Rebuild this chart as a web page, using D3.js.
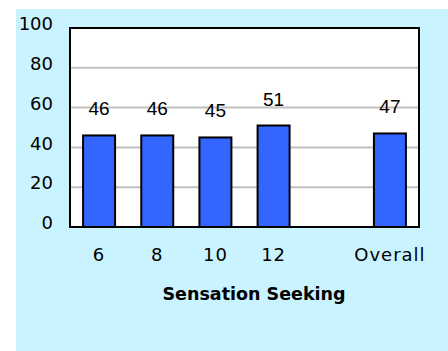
<!DOCTYPE html>
<html><head><meta charset="utf-8">
<script src="https://cdn.jsdelivr.net/npm/d3@7"></script>
<style>html,body{margin:0;padding:0;background:#fff;}svg{display:block;}</style>
</head><body>
<script>
const categories = ["6", "8", "10", "12", "", "Overall"];
const values = [46, 46, 45, 51, null, 47];
const yTicks = [0, 20, 40, 60, 80, 100];
const xTitle = "Sensation Seeking";

const W = 448, H = 351;
const svg = d3.select("body").append("svg").attr("width", W).attr("height", H);
svg.append("rect").attr("x", 16).attr("y", 9).attr("width", W - 16).attr("height", H - 9).attr("fill", "#C9F3FF");

const L = 70, R = 419, T = 28, B = 227;
const slots = categories.map((c, i) => "s" + i);
const x = d3.scaleBand().domain(slots).range([L, R]).paddingInner(0.45).paddingOuter(0.225);
const y = d3.scaleLinear().domain([0, 100]).range([B, T]);

svg.append("rect").attr("x", L).attr("y", T).attr("width", R - L).attr("height", B - T).attr("fill", "#fff");

svg.selectAll("line.grid").data(yTicks.filter(v => v > 0 && v < 100)).enter().append("line")
  .attr("x1", L).attr("x2", R).attr("y1", d => y(d)).attr("y2", d => y(d))
  .attr("stroke", "#C0C0C0").attr("stroke-width", 2);

const data = categories.map((c, i) => ({slot: slots[i], cat: c, v: values[i]})).filter(d => d.v != null);

svg.selectAll("rect.bar").data(data).enter().append("rect")
  .attr("x", d => x(d.slot)).attr("width", x.bandwidth())
  .attr("y", d => y(d.v)).attr("height", d => y(0) - y(d.v))
  .attr("fill", "#3366FF").attr("stroke", "#000").attr("stroke-width", 2);

svg.selectAll("text.val").data(data).enter().append("text")
  .attr("x", d => x(d.slot) + x.bandwidth() / 2).attr("y", d => y(d.v) - 20)
  .attr("text-anchor", "middle").attr("font-family", "Liberation Sans, Arial, sans-serif")
  .attr("font-size", 19).attr("fill", "#000").text(d => d.v);

svg.append("rect").attr("x", L).attr("y", T).attr("width", R - L).attr("height", B - T)
  .attr("fill", "none").attr("stroke", "#000").attr("stroke-width", 2);

const yAxis = svg.append("g").attr("transform", `translate(${L},0)`)
  .call(d3.axisLeft(y).tickValues(yTicks).tickSize(0).tickPadding(17));
yAxis.select(".domain").remove();
yAxis.selectAll("text").attr("font-family", "DejaVu Sans, sans-serif").attr("font-size", 18)
  .attr("fill", "#000").attr("dy", "0.32em").attr("y", -4);

const xAxis = svg.append("g").attr("transform", `translate(0,${B})`)
  .call(d3.axisBottom(x).tickSize(0).tickPadding(0).tickFormat((d, i) => categories[i]));
xAxis.select(".domain").remove();
xAxis.selectAll("text").attr("font-family", "DejaVu Sans, sans-serif").attr("font-size", 18)
  .attr("fill", "#000").attr("dy", null).attr("y", 34).attr("letter-spacing", 1);

svg.append("text").attr("x", 254).attr("y", 300).attr("text-anchor", "middle")
  .attr("font-family", "DejaVu Sans, sans-serif").attr("font-weight", "bold").attr("font-size", 17.5)
  .attr("fill", "#000").text(xTitle);
</script>
</body></html>
